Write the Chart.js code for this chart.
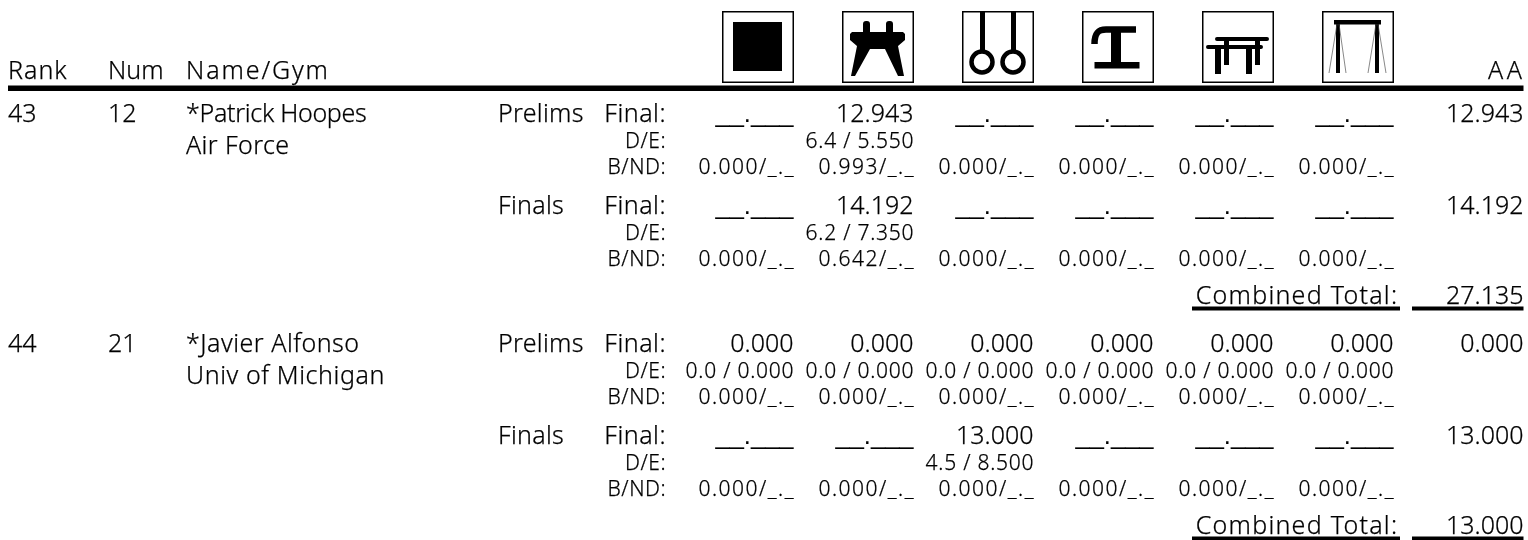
<!DOCTYPE html>
<html>
<head>
<meta charset="utf-8">
<title>Rank table</title>
<script src="https://cdn.jsdelivr.net/npm/chart.js@4"></script>
<style>
html, body { margin: 0; padding: 0; background: #fff; }
canvas { display: block; }
</style>
</head>
<body>
<canvas id="scoreChart" width="1528" height="540"></canvas>
<script>
// table contents
const apparatus = ['Floor', 'Pommel Horse', 'Rings', 'Vault', 'Parallel Bars', 'High Bar'];
const headers = ['Rank', 'Num', 'Name/Gym'];
const ranks = ['43', '44'];
const nums = ['12', '21'];
const names = ['*Patrick Hoopes', '*Javier Alfonso'];
const gyms = ['Air Force', 'Univ of Michigan'];
const sessions = ['Prelims', 'Finals'];
const lineLabels = ['Final:', 'D/E:', 'B/ND:'];

const B = '__.___';
const N = '_._';
const finals = [
    [B, '12.943', B, B, B, B],
    [B, '14.192', B, B, B, B],
    ['0.000', '0.000', '0.000', '0.000', '0.000', '0.000'],
    [B, B, '13.000', B, B, B]
];
const dScores = [
    ['', '6.4 / 5.550', '', '', '', ''],
    ['', '6.2 / 7.350', '', '', '', ''],
    ['0.0 / 0.000', '0.0 / 0.000', '0.0 / 0.000', '0.0 / 0.000', '0.0 / 0.000', '0.0 / 0.000'],
    ['', '', '4.5 / 8.500', '', '', '']
];
const bonus = [
    ['0.000', '0.993', '0.000', '0.000', '0.000', '0.000'],
    ['0.000', '0.642', '0.000', '0.000', '0.000', '0.000'],
    ['0.000', '0.000', '0.000', '0.000', '0.000', '0.000'],
    ['0.000', '0.000', '0.000', '0.000', '0.000', '0.000']
];
const allAround = ['12.943', '14.192', '0.000', '13.000'];
const combined = ['27.135', '13.000'];

// layout, in page units (the scales run 0-1528 and 0-540)
const colRank = 8, colNum = 108, colName = 186, colSession = 498, colLabel = 665.5;
const colFirst = 793.5, colStep = 120, colAA = 1523.5;
const boxFirst = 758, boxY = 47, boxSize = 72;
const headY = 79, blockY = [122, 352], sessionStep = 92, lineStep = 26, totalStep = 181.5;
const gymStep = 32, ruleY = 88.3, underStep = 5;
const nameSpacing = [-0.3, 0.5];
const gymSpacing = [0.4, 0.6];
const bigFont = '300 25px "Noto Sans"';
const smallFont = '300 21px "Noto Sans"';
const blankFont = '25.5px "Liberation Sans"';

function box(draw) {
    const c = document.createElement('canvas');
    c.width = boxSize;
    c.height = boxSize;
    const g = c.getContext('2d');
    g.fillStyle = '#000';
    g.strokeStyle = '#000';
    draw(g);
    g.lineWidth = 1.5;
    g.strokeStyle = '#000';
    g.strokeRect(0.75, 0.75, boxSize - 1.5, boxSize - 1.5);
    return c;
}

function poly(g, pts) {
    g.beginPath();
    pts.forEach(function(p, i) { i ? g.lineTo(p[0], p[1]) : g.moveTo(p[0], p[1]); });
    g.closePath();
    g.fill();
}

const icons = [
    box(function(g) { g.fillRect(11, 11, 49, 49); }),
    box(function(g) {
        poly(g, [[8, 23], [10, 21], [61, 21], [63, 23], [63, 29], [56, 35], [62, 65], [56, 65], [43, 38], [28, 38], [13, 65], [9, 65], [15, 35], [8, 29]]);
        g.beginPath(); g.roundRect(21, 10, 7, 14, 3); g.roundRect(44, 10, 7, 14, 3); g.fill();
    }),
    box(function(g) {
        g.fillRect(18, 0, 5, 41);
        g.fillRect(49, 0, 5, 41);
        g.lineWidth = 4.5;
        g.beginPath(); g.arc(20, 51, 10.5, 0, Math.PI * 2); g.stroke();
        g.beginPath(); g.arc(51, 51, 10.5, 0, Math.PI * 2); g.stroke();
    }),
    box(function(g) {
        g.lineWidth = 6.5;
        g.beginPath(); g.moveTo(12.5, 33); g.bezierCurveTo(12.5, 22, 16, 18.5, 24, 18.5); g.lineTo(54, 18.5); g.stroke();
        g.fillRect(29, 18, 10, 34);
        g.fillRect(12.5, 51, 45, 6.5);
    }),
    box(function(g) {
        g.beginPath(); g.roundRect(13, 26, 54, 4, 2); g.roundRect(4, 34, 57, 4, 2); g.fill();
        g.fillRect(13, 36, 6, 27);
        g.fillRect(22, 28, 5, 26);
        g.fillRect(44, 36, 6, 27);
        g.fillRect(53, 28, 5, 26);
    }),
    box(function(g) {
        g.fillRect(12, 9, 47, 4.5);
        g.fillRect(14, 12, 4, 50);
        g.fillRect(53, 12, 4, 50);
        g.lineWidth = 0.7;
        g.strokeStyle = '#555';
        g.beginPath();
        g.moveTo(15, 13); g.lineTo(7, 62);
        g.moveTo(17, 13); g.lineTo(24, 62);
        g.moveTo(54, 13); g.lineTo(46, 62);
        g.moveTo(56, 13); g.lineTo(64, 62);
        g.stroke();
    })
];

function rowY(i, line) {
    const block = Math.floor(i / 2);
    return blockY[block] + (i % 2) * sessionStep + line * lineStep;
}

const tableText = {
    id: 'tableText',
    afterDatasetsDraw(chart) {
        const ctx = chart.ctx, xs = chart.scales.x, ys = chart.scales.y;
        const put = function(text, x, y, font, align, spacing) {
            const s = spacing || 0;
            ctx.font = font;
            ctx.textAlign = align;
            ctx.letterSpacing = s + 'px';
            // the trailing letter space would push right aligned text inwards
            const px = xs.getPixelForValue(align === 'right' ? x + s : x);
            const py = ys.getPixelForValue(y);
            ctx.fillText(text, px, py);
            // light face alone is too thin next to the reference
            if (font !== blankFont) ctx.strokeText(text, px, py);
        };
        ctx.save();
        ctx.fillStyle = '#000';
        ctx.strokeStyle = '#000';
        ctx.lineWidth = 0.25;
        ctx.textBaseline = 'alphabetic';
        put(headers[0], colRank, headY, bigFont, 'left', 1);
        put(headers[1], colNum, headY, bigFont, 'left');
        put(headers[2], colName, headY, bigFont, 'left', 1.9);
        put('AA', 1522, headY, bigFont, 'right', 3.5);

        ranks.forEach(function(r, b) {
            put(r, colRank, blockY[b], bigFont, 'left');
            put(nums[b], colNum, blockY[b], bigFont, 'left');
            put(names[b], colName, blockY[b], bigFont, 'left', nameSpacing[b]);
            put(gyms[b], colName, blockY[b] + gymStep, bigFont, 'left', gymSpacing[b]);
            put('Combined Total:', 1397, blockY[b] + totalStep, bigFont, 'right', 1.25);
            put(combined[b], colAA, blockY[b] + totalStep, bigFont, 'right');
        });

        finals.forEach(function(row, i) {
            put(sessions[i % 2], colSession, rowY(i, 0), bigFont, 'left', 0.3);
            lineLabels.forEach(function(l, k) {
                put(l, colLabel, rowY(i, k), k ? smallFont : bigFont, 'right', k ? 0.5 : 0.5);
            });
            row.forEach(function(v, c) {
                const x = colFirst + c * colStep;
                put(v, x, rowY(i, 0), v === B ? blankFont : bigFont, 'right');
                put(dScores[i][c], x, rowY(i, 1), smallFont, 'right', 0.75);
                put(bonus[i][c] + '/' + N, x, rowY(i, 2), smallFont, 'right', 1.5);
            });
            put(allAround[i], colAA, rowY(i, 0), bigFont, 'right');
        });
        ctx.restore();
    }
};

function rule(x1, x2, y, width) {
    return {
        type: 'line',
        data: [{ x: x1, y: y }, { x: x2, y: y }],
        borderColor: '#000',
        borderWidth: width,
        borderCapStyle: 'butt',
        pointRadius: 0,
        clip: false
    };
}

const datasets = [
    {
        label: 'Apparatus',
        data: apparatus.map(function(a, i) { return { x: boxFirst + i * colStep, y: boxY }; }),
        pointStyle: icons,
        pointRadius: boxSize / 2
    },
    rule(8, colAA, ruleY, 5.5)
];
blockY.forEach(function(y) {
    datasets.push(rule(1192, 1400, y + totalStep + underStep, 4));
    datasets.push(rule(1412, colAA, y + totalStep + underStep, 4));
});

document.addEventListener("DOMContentLoaded", function() {
    const ctx = document.getElementById('scoreChart').getContext('2d');
    new Chart(ctx, {
        type: 'scatter',
        data: { datasets: datasets },
        options: {
            responsive: false,
            animation: false,
            layout: { padding: 0, autoPadding: false },
            plugins: { legend: { display: false }, tooltip: { enabled: false } },
            scales: {
                x: { type: 'linear', min: 0, max: 1528, display: false },
                y: { type: 'linear', min: 0, max: 540, reverse: true, display: false }
            }
        },
        plugins: [tableText]
    });
});
</script>
</body>
</html>
